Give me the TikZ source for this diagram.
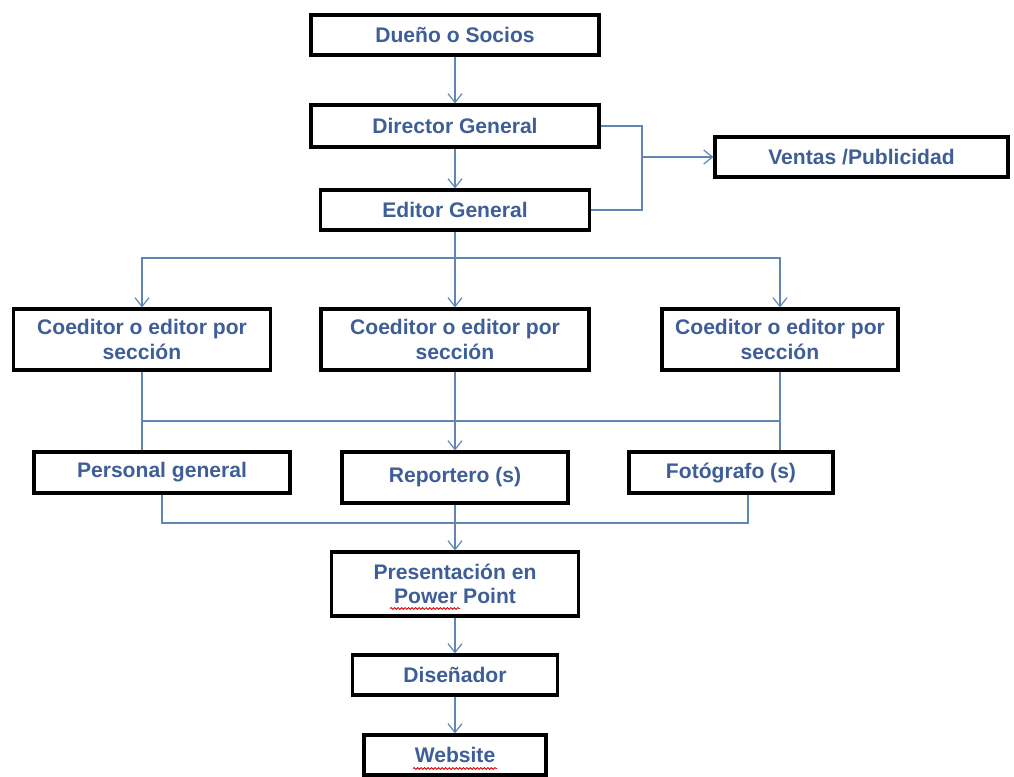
\documentclass[tikz,border=0pt]{standalone}
\usepackage{fontspec}
\setmainfont{Liberation Sans}
\usetikzlibrary{arrows.meta,calc,decorations.pathmorphing}
\definecolor{boxtext}{RGB}{62,94,152}
\definecolor{linkblue}{RGB}{98,134,180}
\tikzset{
  orgbox/.style={draw=black, line width=1.8pt, fill=white, align=center,
    text=boxtext, font=\fontsize{12}{14}\selectfont\bfseries, inner sep=1pt},
  conn/.style={draw=linkblue, line width=0.7pt},
  tip/.style={-{Straight Barb[length=5pt,width=8pt,line width=0.7pt]}},
  spell/.style={draw=red!85!black, line width=0.5pt,
    decorate, decoration={snake, amplitude=0.5pt, segment length=2pt}}
}
\begin{document}
\begin{tikzpicture}
  \useasboundingbox (0,0) rectangle (20.28,-15.52);
  % Top of the chart
  \node[orgbox, minimum width=5.76cm, minimum height=0.80cm] (dueno) at (9.10,-0.70) {Dueño o Socios};
  \node[orgbox, minimum width=5.76cm, minimum height=0.84cm] (director) at (9.10,-2.52) {Director General};
  \node[orgbox, minimum width=5.38cm, minimum height=0.80cm] (editor) at (9.10,-4.20) {Editor General};
  \node[orgbox, minimum width=5.86cm, minimum height=0.80cm] (ventas) at (17.23,-3.14) {Ventas /Publicidad};
  % Coeditors
  \node[orgbox, minimum width=5.14cm, minimum height=1.22cm] (coedL) at (2.84,-6.79) {Coeditor o editor por\\sección};
  \node[orgbox, minimum width=5.36cm, minimum height=1.22cm] (coedM) at (9.10,-6.79) {Coeditor o editor por\\sección};
  \node[orgbox, minimum width=4.72cm, minimum height=1.22cm] (coedR) at (15.60,-6.79) {Coeditor o editor por\\sección};
  % Staff
  \node[orgbox, minimum width=5.12cm, minimum height=0.82cm] (personal) at (3.24,-9.45) {Personal general};
  \node[orgbox, minimum width=4.52cm, minimum height=1.02cm] (reportero) at (9.10,-9.55) {Reportero (s)};
  \node[orgbox, minimum width=4.08cm, minimum height=0.82cm] (fotografo) at (14.62,-9.45) {Fotógrafo (s)};
  % Output chain
  \node[orgbox, minimum width=4.94cm, minimum height=1.28cm] (presentacion) at (9.10,-11.68) {Presentación en\\Power Point};
  \node[orgbox, minimum width=4.10cm, minimum height=0.80cm] (disenador) at (9.10,-13.50) {Diseñador};
  \node[orgbox, minimum width=3.64cm, minimum height=0.80cm] (website) at (9.10,-15.10) {Website};
  % Bus points
  \coordinate (salesbus) at (12.84,-3.14);
  \coordinate (topbus) at (9.10,-5.16);
  \coordinate (midbus) at (9.10,-8.42);
  \coordinate (botbus) at (9.10,-10.46);
  % Connectors
  \draw[conn, tip] (dueno) -- (director);
  \draw[conn, tip] (director) -- (editor);
  \draw[conn] (director.east) -| (salesbus) |- (editor.east);
  \draw[conn, tip] (salesbus) -- (ventas.west);
  \draw[conn] (editor.south) -- (topbus);
  \draw[conn, tip] (topbus) -| (coedL.north);
  \draw[conn, tip] (topbus) -| (coedR.north);
  \draw[conn, tip] (topbus) -- (coedM.north);
  \draw[conn] (coedL.south) -- (coedL.south |- personal.north);
  \draw[conn] (coedR.south) -- (coedR.south |- fotografo.north);
  \draw[conn] (coedL.south |- midbus) -- (coedR.south |- midbus);
  \draw[conn, tip] (coedM.south) -- (reportero.north);
  \draw[conn] (personal.south) |- (botbus) -| ($(fotografo.south)+(0.34,0)$);
  \draw[conn, tip] (reportero.south) -- (presentacion.north);
  \draw[conn, tip] (presentacion) -- (disenador);
  \draw[conn, tip] (disenador) -- (website);
  % Spell-check marks
  \draw[spell] (7.80,-12.17) -- (9.20,-12.17);
  \draw[spell] (8.26,-15.37) -- (9.94,-15.37);
\end{tikzpicture}
\end{document}
